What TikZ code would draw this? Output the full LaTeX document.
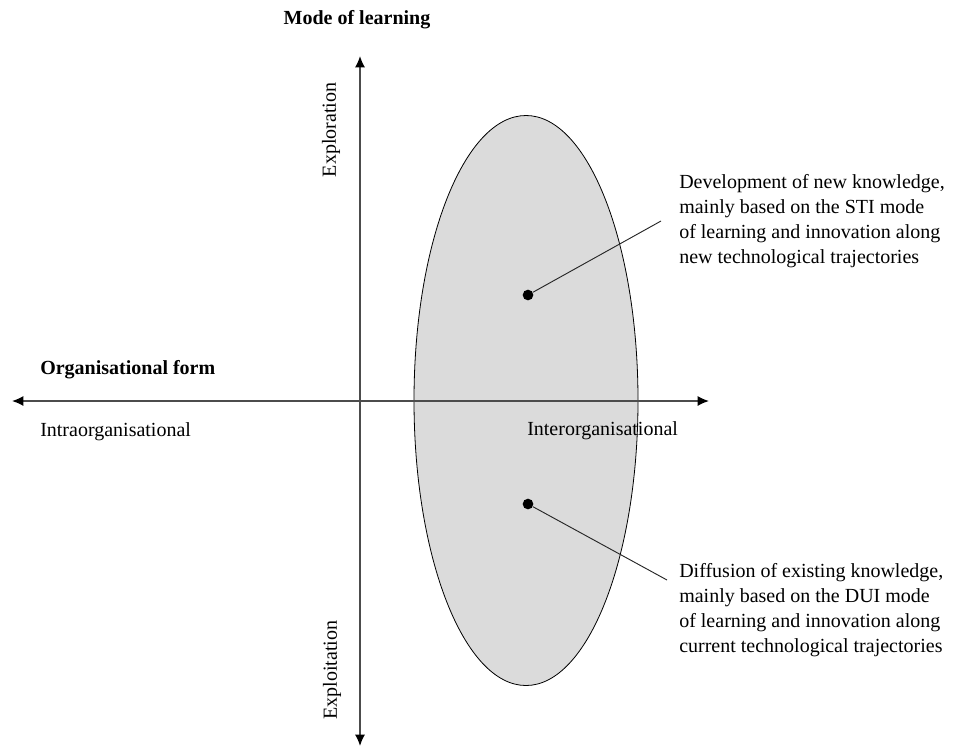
\documentclass[tikz,border=0pt]{standalone}
\usepackage{fontspec}
\setmainfont{Liberation Serif}
\usetikzlibrary{arrows.meta,shapes.geometric}
\begin{document}
\begin{tikzpicture}[x=0.75pt,y=-0.75pt,
  lbl/.style={font=\fontsize{15}{18.75}\selectfont, inner sep=0pt},
  blbl/.style={font=\fontsize{15}{18.75}\selectfont\bfseries, inner sep=0pt},
  axis/.style={draw=black!70, line width=1.1pt, {Latex[length=8.5pt,width=7.5pt,color=black]}-{Latex[length=8.5pt,width=7.5pt,color=black]}},
  dot/.style={circle, fill=black, minimum size=8pt, inner sep=0pt},
  leader/.style={draw=black!85, line width=0.7pt}
]
\useasboundingbox (0,0) rectangle (956,747);
% ellipse
\node[ellipse, draw=black, line width=0.6pt, fill=black!14, minimum width=168pt, minimum height=427.5pt, inner sep=0pt] (ell) at (526,400.5) {};
% axes
\coordinate (vtop) at (360,56);
\coordinate (vbot) at (360,746);
\coordinate (hleft) at (12,401);
\coordinate (hright) at (709,401);
\draw[axis] (vbot) -- (vtop);
\draw[axis] (hleft) -- (hright);
% labels
\node[blbl] (mode) at (357,20) {Mode of learning};
\node[lbl, rotate=90] (explor) at (331,130) {Exploration};
\node[lbl, rotate=90] (exploit) at (332,670) {Exploitation};
\node[blbl, anchor=west] (orgform) at (40,370) {Organisational form};
\node[lbl, anchor=west] (intra) at (40,432) {Intraorganisational};
\node[lbl, anchor=west] (inter) at (527,431) {Interorganisational};
% dots and texts
\node[dot] (d1) at (528,295) {};
\node[dot] (d2) at (528,504) {};
\node[lbl, anchor=west, align=left] (t1) at (679,221.5) {Development of new knowledge,\\mainly based on the STI mode\\of learning and innovation along\\new technological trajectories};
\node[lbl, anchor=west, align=left] (t2) at (679,610.5) {Diffusion of existing knowledge,\\mainly based on the DUI mode\\of learning and innovation along\\current technological trajectories};
\coordinate (e1) at (661,221);
\coordinate (e2) at (667,580);
\draw[leader] (d1) -- (e1);
\draw[leader] (d2) -- (e2);
\end{tikzpicture}
\end{document}
